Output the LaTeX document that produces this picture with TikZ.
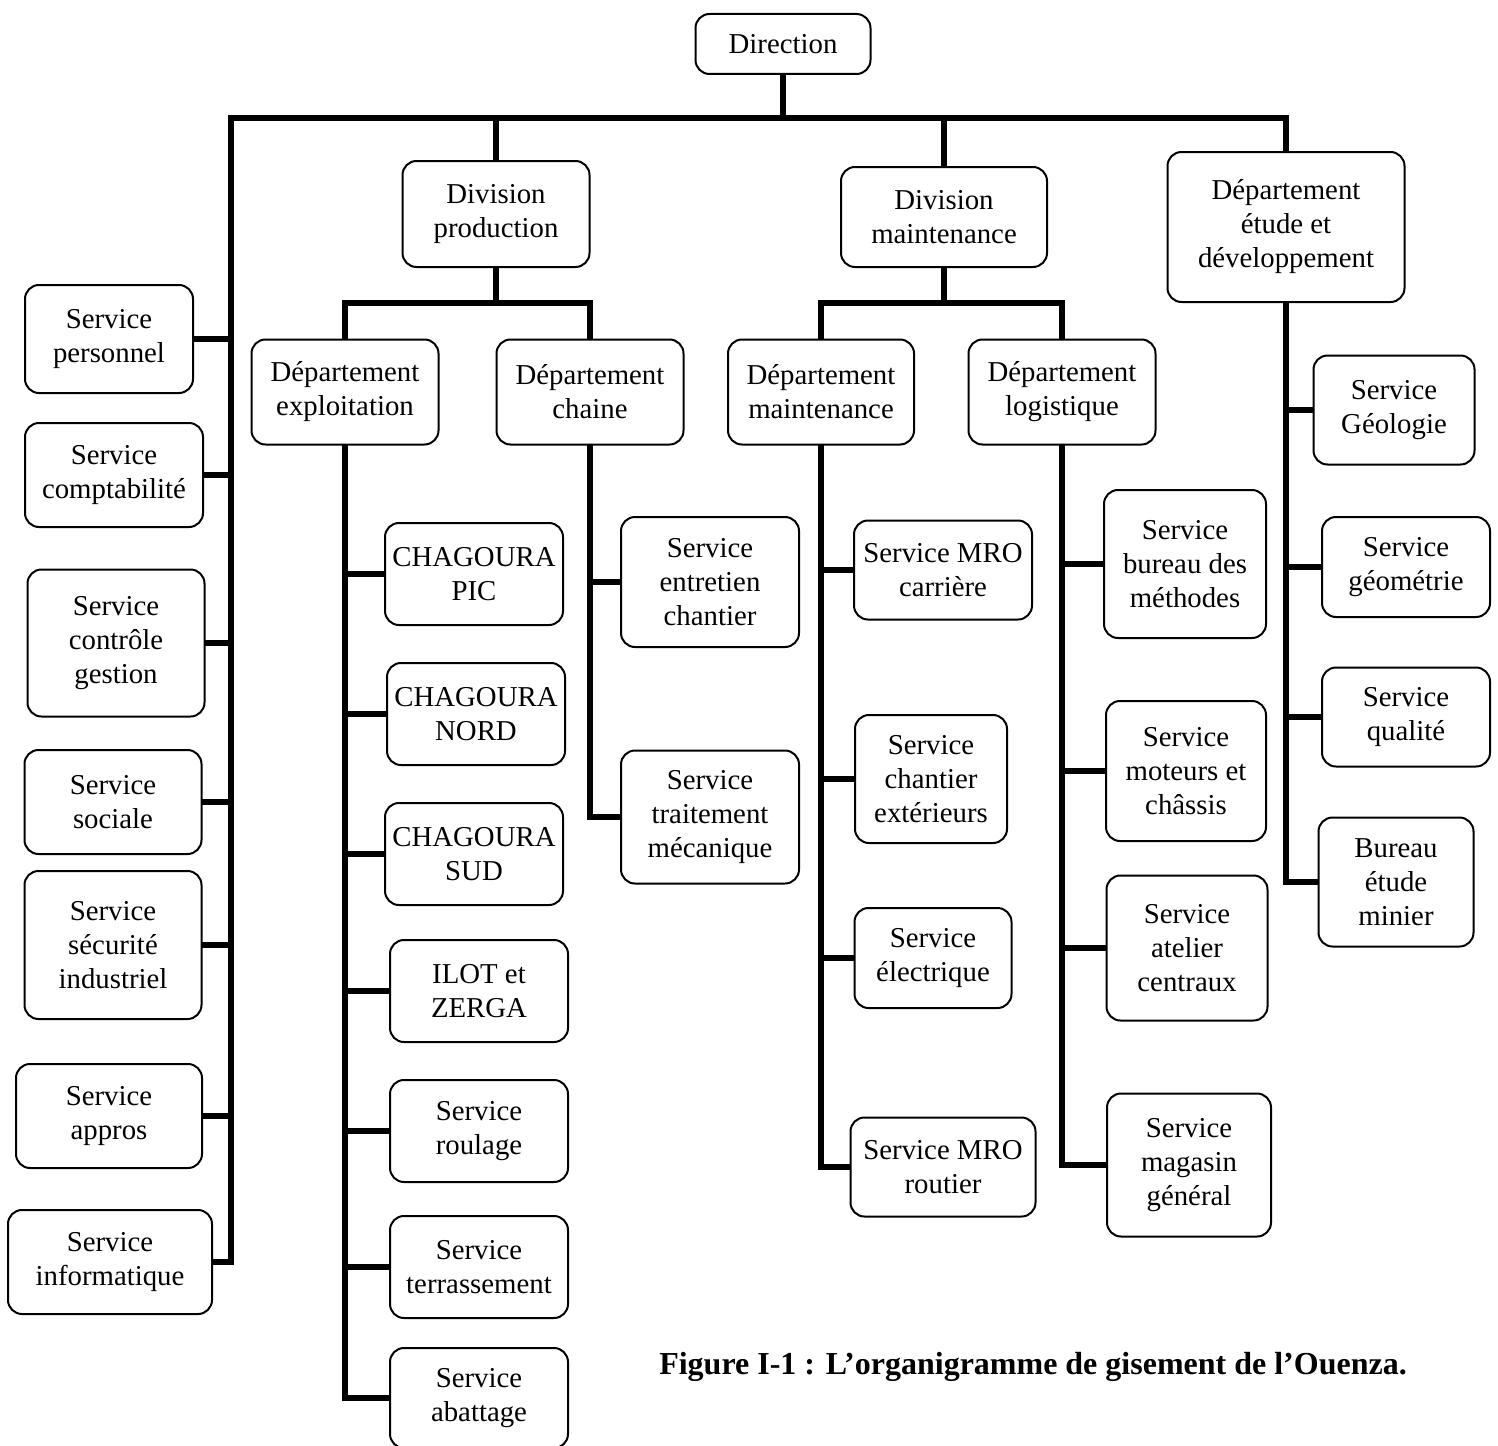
\documentclass[tikz,border=0pt]{standalone}
\usepackage{fontspec}
\setmainfont{Liberation Serif}
\usetikzlibrary{positioning, backgrounds}
\tikzset{
    boxnode/.style = {draw, rectangle, rounded corners=7pt, fill=white, line width=1pt,
      inner sep=0.1em, align=center, font=\fontsize{14.4}{17}\selectfont},
    link/.style = {black, line width=3pt, line cap=rect},
    captionnode/.style = {draw=none, fill=none, inner sep=0pt, font=\fontsize{16}{19}\selectfont\bfseries}
}

\begin{document}
\begin{tikzpicture}[x=0.5pt, y=-0.5pt]
    \useasboundingbox (0,0) rectangle (1498,1445);

    % top
    \node [boxnode, name=dir, minimum width=87.5pt, minimum height=30pt] at (783,44) {Direction};
    \coordinate (busL) at (231,118);

    % left column
    \node [boxnode, name=pers, minimum width=84pt, minimum height=54pt] at (109,339) {Service\\personnel};
    \node [boxnode, name=compta, minimum width=89pt, minimum height=52pt] at (114,475) {Service\\comptabilité};
    \node [boxnode, name=ctrl, minimum width=88.5pt, minimum height=73.5pt] at (116,643) {Service\\contrôle\\gestion};
    \node [boxnode, name=soc, minimum width=88.5pt, minimum height=52pt] at (113,802) {Service\\sociale};
    \node [boxnode, name=secu, minimum width=88.5pt, minimum height=74pt] at (113,945) {Service\\sécurité\\industriel};
    \node [boxnode, name=appro, minimum width=93pt, minimum height=52pt] at (109,1116) {Service\\appros};
    \node [boxnode, name=info, minimum width=102pt, minimum height=52pt] at (110,1262) {Service\\informatique};

    % division production
    \node [boxnode, name=divp, minimum width=93.5pt, minimum height=53pt] at (496,214) {Division\\production};
    \coordinate (jp) at (496,303);
    \node [boxnode, name=dexp, minimum width=93.5pt, minimum height=52.5pt] at (345,392) {Département\\exploitation};
    \node [boxnode, name=dch, minimum width=93.5pt, minimum height=52.5pt] at (590,392) {Département\\chaine};
    \node [boxnode, name=pic, minimum width=89pt, minimum height=51pt] at (474,574) {CHAGOURA\\PIC};
    \node [boxnode, name=nord, minimum width=89pt, minimum height=51pt] at (476,714) {CHAGOURA\\NORD};
    \node [boxnode, name=sud, minimum width=89pt, minimum height=51pt] at (474,854) {CHAGOURA\\SUD};
    \node [boxnode, name=ilot, minimum width=89pt, minimum height=51pt] at (479,991) {ILOT et\\ZERGA};
    \node [boxnode, name=roul, minimum width=89pt, minimum height=51pt] at (479,1131) {Service\\roulage};
    \node [boxnode, name=terr, minimum width=89pt, minimum height=51pt] at (479,1267) {Service\\terrassement};
    \node [boxnode, name=abat, minimum width=89pt, minimum height=50pt] at (479,1398) {Service\\abattage};
    \node [boxnode, name=entr, minimum width=89pt, minimum height=65pt] at (710,582) {Service\\entretien\\chantier};
    \node [boxnode, name=trait, minimum width=89pt, minimum height=66.5pt] at (710,817) {Service\\traitement\\mécanique};

    % division maintenance
    \node [boxnode, name=divm, minimum width=103pt, minimum height=50pt] at (944,217) {Division\\maintenance};
    \coordinate (jm) at (944,303);
    \node [boxnode, name=dmaint, minimum width=93pt, minimum height=52.5pt] at (821,392) {Département\\maintenance};
    \node [boxnode, name=dlog, minimum width=93.5pt, minimum height=52.5pt] at (1062,392) {Département\\logistique};
    \node [boxnode, name=mroc, minimum width=89pt, minimum height=49.5pt] at (943,570) {Service MRO\\carrière};
    \node [boxnode, name=chext, minimum width=76pt, minimum height=64pt] at (931,779) {Service\\chantier\\extérieurs};
    \node [boxnode, name=elec, minimum width=78.5pt, minimum height=50pt] at (933,958) {Service\\électrique};
    \node [boxnode, name=mror, minimum width=92.5pt, minimum height=49.5pt] at (943,1167) {Service MRO\\routier};
    \node [boxnode, name=bur, minimum width=81pt, minimum height=74pt] at (1185,564) {Service\\bureau des\\méthodes};
    \node [boxnode, name=mot, minimum width=80pt, minimum height=70pt] at (1186,771) {Service\\moteurs et\\châssis};
    \node [boxnode, name=atel, minimum width=80.5pt, minimum height=72.5pt] at (1187,948) {Service\\atelier\\centraux};
    \node [boxnode, name=mag, minimum width=82pt, minimum height=71.5pt] at (1189,1165) {Service\\magasin\\général};

    % departement etude
    \node [boxnode, name=etude, minimum width=118.5pt, minimum height=75pt] at (1286,227) {Département\\étude et\\développement};
    \node [boxnode, name=geol, minimum width=80.5pt, minimum height=54.5pt] at (1394,410) {Service\\Géologie};
    \node [boxnode, name=geom, minimum width=84pt, minimum height=50pt] at (1406,567) {Service\\géométrie};
    \node [boxnode, name=qual, minimum width=84pt, minimum height=49.5pt] at (1406,717) {Service\\qualité};
    \node [boxnode, name=bem, minimum width=77.5pt, minimum height=64.5pt] at (1396,882) {Bureau\\étude\\minier};

    \node [captionnode, name=caption] at (1033,1367) {Figure I-1 : L’organigramme de gisement de l’Ouenza.};

    % connectors
    \begin{scope}[on background layer]
    \draw [link] (busL) -- (etude.north |- busL);
    \draw [link] (dir.south) -- (dir.south |- busL);
    \draw [link] (busL) -- (busL |- info.east);
    \foreach \n in {pers,compta,ctrl,soc,secu,appro,info}
        \draw [link] (\n.east) -- (\n.east -| busL);
    \draw [link] (divp.north) -- (divp.north |- busL);
    \draw [link] (divm.north) -- (divm.north |- busL);
    \draw [link] (etude.north) -- (etude.north |- busL);

    \draw [link] (divp.south) -- (jp);
    \draw [link] (dexp.north) |- (jp) -| (dch.north);
    \draw [link] (divm.south) -- (jm);
    \draw [link] (dmaint.north) |- (jm) -| (dlog.north);

    \draw [link] (dexp.south) -- (dexp.south |- abat.west);
    \foreach \n in {pic,nord,sud,ilot,roul,terr,abat}
        \draw [link] (\n.west) -- (\n.west -| dexp.south);
    \draw [link] (dch.south) -- (dch.south |- trait.west);
    \foreach \n in {entr,trait}
        \draw [link] (\n.west) -- (\n.west -| dch.south);
    \draw [link] (dmaint.south) -- (dmaint.south |- mror.west);
    \foreach \n in {mroc,chext,elec,mror}
        \draw [link] (\n.west) -- (\n.west -| dmaint.south);
    \draw [link] (dlog.south) -- (dlog.south |- mag.west);
    \foreach \n in {bur,mot,atel,mag}
        \draw [link] (\n.west) -- (\n.west -| dlog.south);
    \draw [link] (etude.south) -- (etude.south |- bem.west);
    \foreach \n in {geol,geom,qual,bem}
        \draw [link] (\n.west) -- (\n.west -| etude.south);
    \end{scope}
\end{tikzpicture}
\end{document}
